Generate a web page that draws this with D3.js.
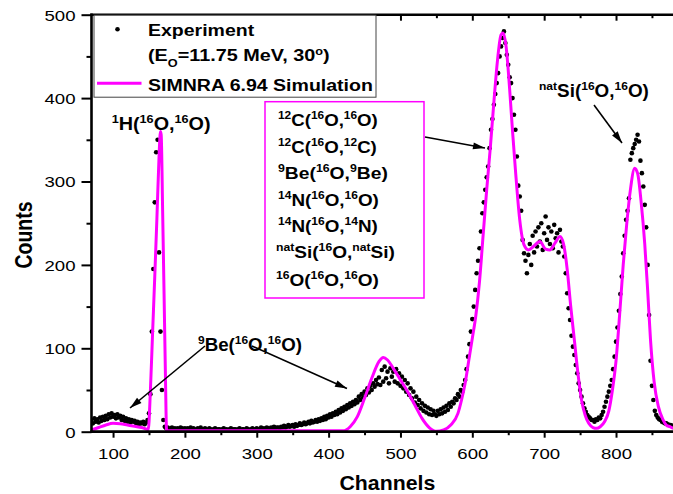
<!DOCTYPE html>
<html><head><meta charset="utf-8">
<script src="https://cdn.jsdelivr.net/npm/d3@7"></script>
<style>body{margin:0;background:#fff}svg{display:block}</style>
</head><body>
<svg id="chart" width="673" height="494"></svg>
<script>
// ---------------- DATA ----------------
const expStart = 70, expStep = 2;   // channel of first point, spacing
const expCounts = [
  14,10,16,12,15,11,17,13,18,14,
  19,15,21,17,22,18,20,16,21,17,
  19,14,18,13,16,12,15,11,14,12,
  13,10,12,9,11,10,12,9,11,14,
  22,45,120,195,275,335,350,215,120,50,
  14,6,4,5,3,4,5,3,4,3,
  4,3,5,4,3,4,2,4,3,5,
  3,4,2,3,4,3,5,2,3,4,
  3,2,4,3,2,3,4,2,3,3,
  2,3,4,2,3,2,3,4,2,3,
  3,2,3,4,2,3,3,2,4,3,
  2,3,4,3,2,4,3,3,5,3,
  4,3,5,4,3,5,4,6,4,5,
  5,4,6,5,7,5,6,8,6,7,
  8,6,9,7,8,10,8,9,11,9,
  10,12,10,13,11,12,14,12,15,13,
  16,14,18,15,19,17,21,18,22,20,
  24,21,26,23,28,25,30,27,32,29,
  34,31,36,33,38,35,42,38,45,41,
  48,44,52,47,55,50,58,54,62,57,
  65,56,74,60,78,64,72,58,76,66,
  72,60,75,58,70,55,66,52,62,48,
  58,44,52,40,48,35,42,32,38,28,
  34,25,31,23,29,21,27,20,25,21,
  19,25,21,27,22,29,24,31,26,34,
  30,36,34,40,38,45,42,50,48,56,
  62,75,90,105,120,135,150,170,190,205,
  220,240,262,275,290,305,318,340,362,375,
  392,405,418,430,450,462,472,480,466,452,
  440,425,418,400,380,362,330,295,282,265,
  230,214,205,190,212,225,200,235,215,240,
  222,245,228,250,218,238,258,230,245,225,
  240,220,248,232,238,215,242,228,222,210,
  190,166,148,134,115,102,92,80,70,58,
  50,42,34,28,24,20,18,16,14,14,
  12,15,14,17,16,20,24,30,36,42,
  48,55,62,75,90,108,125,145,165,186,
  214,235,254,265,280,326,334,340,345,350,
  356,348,325,310,294,272,245,200,140,85,
  55,38,25,20,17,15,14,12,11,10,
  10,9,8,8,7,7
];
const expChannels = d3.range(expCounts.length).map(i => expStart + i * expStep);

const simChannels = [
  70,80,90,100,110,120,130,140,149,
  152,155,158,161,164,166,167,169,171,173,174.5,
  180,250,330,410,420,430,440,450,460,470,476,482,490,500,510,520,530,540,550,560,570,
  580,585,590,595,600,605,610,615,620,625,630,635,640,643,647,652,656,660,666,672,
  678,685,694,702,708,715,722,727,732,737,742,747,752,757,762,768,773,778,784,790,
  795,800,805,810,815,820,826,830,835,840,844,848,853,859,865,870,875,880
];
const simCounts = [
  2,5,8,10,9.5,8,6.5,5,2.5,
  50,118,185,255,330,360,356,265,165,62,1,
  1,1,1,1,1,6,18,40,64,84,89,86,76,62,48,32,16,5,0.5,2,8,
  22,38,58,85,112,140,180,235,290,340,395,445,476,478,462,410,360,314,254,224,
  218,222,228,219,218,226,234,225,195,150,110,70,38,20,10,5,4,6,12,25,
  50,85,140,200,250,290,316,310,275,225,170,110,60,30,15,8,6,4
];

const xTicks = [100,200,300,400,500,600,700,800];
const xMinor = [150,250,350,450,550,650,750,850];
const yTicks = [0,100,200,300,400,500];
const yMinor = [50,150,250,350,450];

const legendLabels = ["Experiment", "(E_{O}=11.75 MeV, 30^{o})", "SIMNRA 6.94 Simulation"];
const boxLabels = ["^{12}C(^{16}O,^{16}O)","^{12}C(^{16}O,^{12}C)","^{9}Be(^{16}O,^{9}Be)",
  "^{14}N(^{16}O,^{16}O)","^{14}N(^{16}O,^{14}N)","^{nat}Si(^{16}O,^{nat}Si)","^{16}O(^{16}O,^{16}O)"];
const hLabel = "^{1}H(^{16}O,^{16}O)";
const siLabel = "^{nat}Si(^{16}O,^{16}O)";
const beLabel = "^{9}Be(^{16}O,^{16}O)";

// ---------------- DRAW ----------------
const FONT = '"Liberation Sans", Arial, Helvetica, sans-serif';
const SX = 1.2; // horizontal stretch of the reference's lettering
const svg = d3.select('#chart').attr('font-family', FONT);
const x = d3.scaleLinear().domain([70, 880]).range([91.5, 673.5]);
const y = d3.scaleLinear().domain([0, 500]).range([431.7, 14.7]);

const defs = svg.append('defs');
defs.append('clipPath').attr('id','plotclip').append('rect')
  .attr('x', 91.5).attr('y', 14).attr('width', 582).attr('height', 419);
defs.append('marker').attr('id','arr').attr('viewBox','0 0 12 8').attr('refX',12).attr('refY',4)
  .attr('markerWidth',13).attr('markerHeight',8).attr('markerUnits','userSpaceOnUse').attr('orient','auto')
  .append('path').attr('d','M0,0.5L12,4L0,7.5z').attr('fill','#000');

function rich(g, px, py, str, fs, targetW, anchor) {
  const t = g.append('text').attr('x', px).attr('y', py).attr('font-size', fs)
    .attr('font-weight', 'bold').attr('fill', '#000');
  const parts = str.split(/(\^\{[^}]*\}|_\{[^}]*\})/).filter(s => s.length);
  let shift = 0;
  parts.forEach(p => {
    let kind = 'n', s = p;
    if (p.startsWith('^{')) { kind = 'sup'; s = p.slice(2, -1); }
    else if (p.startsWith('_{')) { kind = 'sub'; s = p.slice(2, -1); }
    const want = kind === 'sup' ? -0.42 * fs : kind === 'sub' ? 0.32 * fs : 0;
    const ts = t.append('tspan').attr('dy', want - shift).text(s);
    if (kind !== 'n') ts.attr('font-size', fs * 0.64);
    shift = want;
  });
  const bb = t.node().getBBox();
  const sx = targetW ? targetW / bb.width : SX;
  const ox = anchor === 'middle' ? px - bb.width * sx / 2 : px;
  t.attr('transform', `translate(${ox},0) scale(${sx},1) translate(${-bb.x},0)`);
  return t;
}

// Experimental points
svg.append('g').attr('clip-path','url(#plotclip)').selectAll('circle')
  .data(expCounts).join('circle')
  .attr('cx', (d, i) => x(expChannels[i])).attr('cy', d => y(d))
  .attr('r', 2.3).attr('fill', '#000');

// Simulation line
const line = d3.line().x((d, i) => x(simChannels[i])).y(d => y(d)).curve(d3.curveMonotoneX);
svg.append('path').datum(simCounts).attr('clip-path','url(#plotclip)')
  .attr('d', line).attr('fill', 'none').attr('stroke', '#ff00ff').attr('stroke-width', 3)
  .attr('stroke-linejoin','round');

// Axes
function styleAxis(g) {
  g.select('.domain').remove();
  g.selectAll('.tick line').attr('stroke', '#000').attr('stroke-width', 2);
  g.selectAll('.tick text').attr('font-family', FONT).attr('fill', '#000').attr('font-size', 15.5);
}
const gx = svg.append('g').attr('transform', `translate(0,${y(0)})`)
  .call(d3.axisBottom(x).tickValues(xTicks).tickSize(6).tickSizeOuter(0).tickFormat(d3.format('d')));
styleAxis(gx);
gx.selectAll('.tick text').attr('y', 27.5).attr('dy', 0).attr('transform', `scale(${SX},1)`);
const gxm = svg.append('g').attr('transform', `translate(0,${y(0)})`)
  .call(d3.axisBottom(x).tickValues(xMinor).tickSize(3.5).tickSizeOuter(0).tickFormat(''));
styleAxis(gxm);

const gt = svg.append('g').attr('transform', `translate(0,${y(500)})`)
  .call(d3.axisTop(x).tickValues(xTicks).tickSize(-6).tickSizeOuter(0).tickFormat(''));
styleAxis(gt);
const gtm = svg.append('g').attr('transform', `translate(0,${y(500)})`)
  .call(d3.axisTop(x).tickValues(xMinor).tickSize(-3.5).tickSizeOuter(0).tickFormat(''));
styleAxis(gtm);

const gy = svg.append('g').attr('transform', `translate(${x(70)},0)`)
  .call(d3.axisLeft(y).tickValues(yTicks).tickSize(10).tickSizeOuter(0).tickFormat(d3.format('d')));
styleAxis(gy);
gy.selectAll('.tick text').attr('x', -16).attr('dy', '0.35em')
  .attr('transform', `translate(-16,0) scale(${SX},1) translate(16,0)`);
const gym = svg.append('g').attr('transform', `translate(${x(70)},0)`)
  .call(d3.axisLeft(y).tickValues(yMinor).tickSize(5).tickSizeOuter(0).tickFormat(''));
styleAxis(gym);

// axis lines
svg.append('line').attr('x1', x(70)).attr('x2', x(70)).attr('y1', y(500) - 1.2).attr('y2', y(0) + 1.2)
  .attr('stroke', '#000').attr('stroke-width', 2.6);
svg.append('line').attr('x1', x(70) - 1.2).attr('x2', 673).attr('y1', y(0)).attr('y2', y(0))
  .attr('stroke', '#000').attr('stroke-width', 2.8);
svg.append('line').attr('x1', x(70) - 1.2).attr('x2', 673).attr('y1', y(500)).attr('y2', y(500))
  .attr('stroke', '#000').attr('stroke-width', 2.4);

// axis titles
rich(svg, 387.5, 490, 'Channels', 19.5, 96, 'middle');
svg.append('text').attr('transform', `translate(31.5,235) scale(${SX},1) rotate(-90)`)
  .attr('text-anchor', 'middle').attr('font-size', 19.5).attr('font-weight', 'bold')
  .attr('fill', '#000').text('Counts');

// Legend
const lg = svg.append('g');
lg.append('rect').attr('x', 94).attr('y', y(500) + 0.5).attr('width', 282).attr('height', 82)
  .attr('fill', '#fff').attr('stroke', '#444').attr('stroke-width', 1);
lg.append('circle').attr('cx', 117.5).attr('cy', 29.3).attr('r', 2.3).attr('fill', '#000');
lg.append('line').attr('x1', 97).attr('x2', 141.5).attr('y1', 83.3).attr('y2', 83.3)
  .attr('stroke', '#ff00ff').attr('stroke-width', 3);
rich(lg, 148, 36, legendLabels[0], 16, 107);
rich(lg, 148, 61.5, legendLabels[1], 16, 181.7);
rich(lg, 148, 90.7, legendLabels[2], 16, 225);

// Magenta annotation box
const bg = svg.append('g');
bg.append('rect').attr('x', 265).attr('y', 101.7).attr('width', 159).attr('height', 196.3)
  .attr('fill', '#fff').attr('stroke', '#ff00ff').attr('stroke-width', 1.5);
const boxW = [100, 99, 110, 101, 100, 119, 103];
const boxX = [278, 278, 278, 278, 278, 276, 276];
const boxY = [126, 153, 179.5, 206.5, 232.5, 258.5, 286];
boxLabels.forEach((s, i) => rich(bg, boxX[i], boxY[i], s, 17, boxW[i]));

// Other annotations
rich(svg, 111.7, 130, hLabel, 17.5, 99);
rich(svg, 539, 97.3, siLabel, 17.5, 110);
rich(svg, 198, 351.5, beLabel, 17.5, 104);

// Arrows
const arrows = [
  [205, 346, 130, 408],
  [252, 346, 347, 388.5],
  [425, 137, 485, 148],
  [594, 105, 622, 143]
];
svg.append('g').selectAll('line').data(arrows).join('line')
  .attr('x1', d => d[0]).attr('y1', d => d[1]).attr('x2', d => d[2]).attr('y2', d => d[3])
  .attr('stroke', '#000').attr('stroke-width', 1.6).attr('marker-end', 'url(#arr)');
</script>
</body></html>
